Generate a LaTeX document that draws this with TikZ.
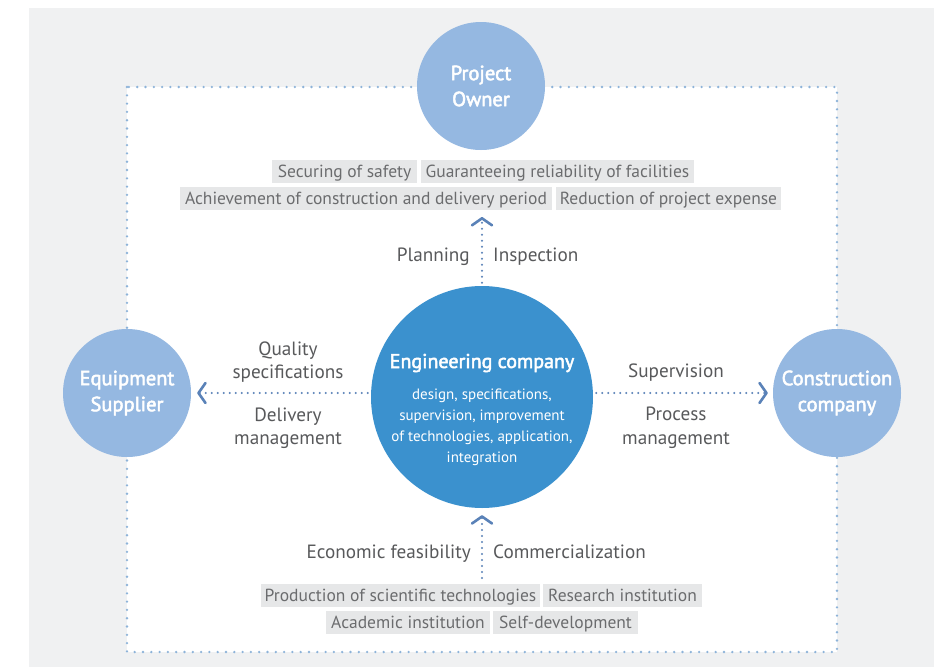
\documentclass[tikz,border=0pt]{standalone}
\usepackage{fontspec}
\setmainfont{PT Sans}
\newfontfamily\medfont[FakeBold=2.5]{PT Sans}
\usetikzlibrary{arrows.meta}
\definecolor{bggrey}{HTML}{F0F1F2}
\definecolor{dotblue}{HTML}{8DB3D9}
\definecolor{lightcirc}{HTML}{95B8E1}
\definecolor{maincirc}{HTML}{3B91CE}
\definecolor{arrowblue}{HTML}{5A82B8}
\definecolor{tagfill}{HTML}{E6E7E8}
\definecolor{tagtext}{HTML}{6B6C6E}
\definecolor{labeltext}{HTML}{58595B}
\begin{document}
\begin{tikzpicture}[x=1pt,y=-1pt,
  party/.style={circle, fill=lightcirc, minimum size=128pt, inner sep=0pt, text=white,
    font=\medfont\fontsize{20.5}{26}\selectfont, align=center},
  tag/.style={fill=tagfill, text=tagtext, minimum height=23pt, inner xsep=0pt, inner ysep=0pt,
    font=\fontsize{17.5}{20}\selectfont, text height=14.5pt, text depth=2pt},
  lbl/.style={text=labeltext, font=\fontsize{19.2}{23}\selectfont, align=center, inner sep=0pt},
  border/.style={draw=dotblue, line width=2.6pt, line cap=round, dash pattern=on 0pt off 8.3pt},
  conn/.style={draw=arrowblue, line width=2.2pt, line cap=round, dash pattern=on 0pt off 6pt,
    -{Straight Barb[length=7pt,width=20pt,line width=2.6pt,round]}}
]
\useasboundingbox (0,0) rectangle (946,667);
\fill[white] (0,0) rectangle (946,667);
\fill[bggrey] (29,8) rectangle (934,667);
\fill[white] (127,87) rectangle (837,652);
\draw[border] (127,87) rectangle (837,652);

% parties
\node[party] (owner) at (481,86) {Project\\Owner};
\node[party] (sup) at (127,393) {Equipment\\Supplier};
\node[party] (con) at (837,393) {Construction\\company};
\node[circle, fill=maincirc, minimum size=222pt, inner sep=0pt] (eng) at (482,397) {};
\node[anchor=base, text=white, inner sep=0pt, font=\medfont\fontsize{20}{24}\selectfont] (engtitle) at (482,368) {Engineering company};
\node[anchor=base, text=white, inner sep=0pt, font=\fontsize{15}{21}\selectfont] (engd1) at (482,399) {design, specifications,};
\node[anchor=base, text=white, inner sep=0pt, font=\fontsize{15}{21}\selectfont] (engd2) at (482,420) {supervision, improvement};
\node[anchor=base, text=white, inner sep=0pt, font=\fontsize{15}{21}\selectfont] (engd3) at (482,441) {of technologies, application,};
\node[anchor=base, text=white, inner sep=0pt, font=\fontsize{15}{21}\selectfont] (engd4) at (482,462) {integration};

% owner tags
\node[tag, minimum width=145pt] (t1) at (344.5,171.5) {Securing of safety};
\node[tag, minimum width=273pt] (t2) at (557.5,171.5) {Guaranteeing reliability of facilities};
\node[tag, minimum width=372pt] (t3) at (366,198.5) {Achievement of construction and delivery period};
\node[tag, minimum width=225pt] (t4) at (668.5,198.5) {Reduction of project expense};

% research tags
\node[tag, minimum width=279pt] (b1) at (400.5,595.5) {Production of scientific technologies};
\node[tag, minimum width=159pt] (b2) at (622.5,595.5) {Research institution};
\node[tag, minimum width=164pt] (b3) at (408,622.5) {Academic institution};
\node[tag, minimum width=145pt] (b4) at (565.5,622.5) {Self-development};

% connectors
\coordinate (toptip) at (482,217);
\coordinate (botstart) at (482,578);
\draw[conn, shorten <=3pt] (eng) -- (toptip);
\draw[conn, shorten >=7pt] (botstart) -- (eng);
\draw[conn, shorten <=3pt, shorten >=6pt] (sup -| eng.west) -- (sup);
\draw[conn, shorten <=3pt, shorten >=5pt] (con -| eng.east) -- (con);

% labels
\node[lbl, anchor=base east] (plan) at (470,261) {Planning};
\node[lbl, anchor=base west] (insp) at (493,261) {Inspection};
\node[lbl, anchor=base east] (econ) at (471,558) {Economic feasibility};
\node[lbl, anchor=base west] (comm) at (493,558) {Commercialization};
\node[lbl, anchor=base] (qual1) at (288,355) {Quality};
\node[lbl, anchor=base] (qual2) at (288,378) {specifications};
\node[lbl, anchor=base] (deliv1) at (288,421) {Delivery};
\node[lbl, anchor=base] (deliv2) at (288,444) {management};
\node[lbl, anchor=base] (superv) at (676,377) {Supervision};
\node[lbl, anchor=base] (proc1) at (676,420) {Process};
\node[lbl, anchor=base] (proc2) at (676,444) {management};
\end{tikzpicture}
\end{document}
